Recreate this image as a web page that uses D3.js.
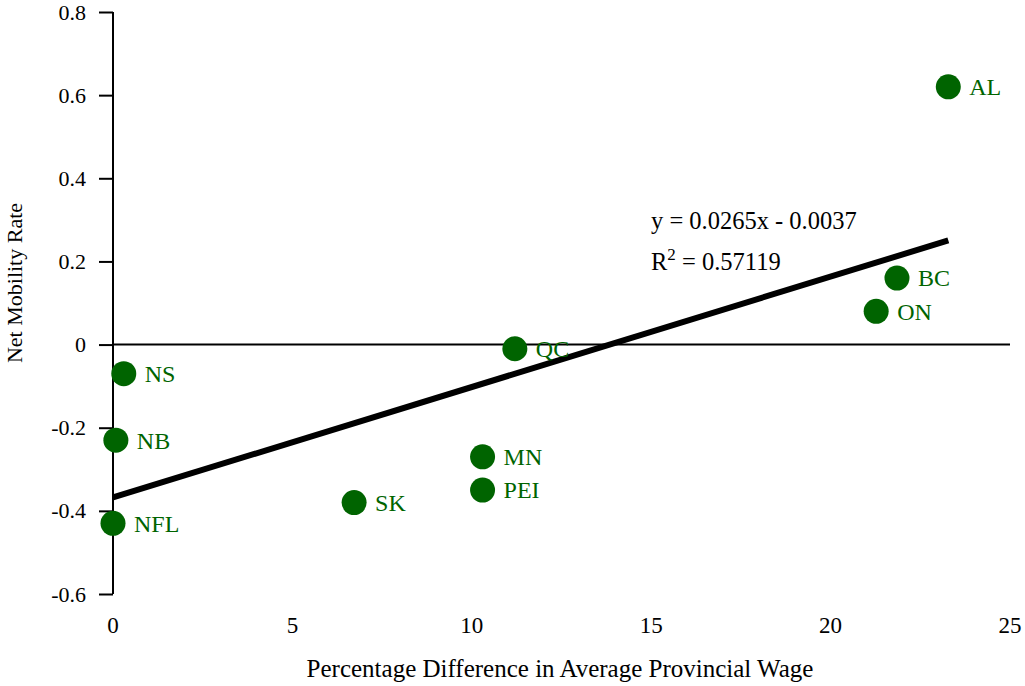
<!DOCTYPE html>
<html>
<head>
<meta charset="utf-8">
<script src="https://cdn.jsdelivr.net/npm/d3@7"></script>
<style>
  body { margin: 0; background: #fff; }
  svg { display: block; font-family: "Liberation Serif", "Times New Roman", serif; }
</style>
</head>
<body>
<svg id="chart" width="1025" height="686"></svg>
<script>
// provinces, wage difference (%) and net mobility rate
const provinces = ["AL", "BC", "ON", "QC", "NS", "NB", "NFL", "SK", "MN", "PEI"];
const wageDiff = [23.28, 21.85, 21.27, 11.2, 0.3, 0.08, 0.0, 6.72, 10.3, 10.3];
const mobility = [0.62, 0.16, 0.08, -0.01, -0.07, -0.23, -0.43, -0.38, -0.27, -0.35];
const xTicks = [0, 5, 10, 15, 20, 25];
const yTicks = [-0.6, -0.4, -0.2, 0, 0.2, 0.4, 0.6, 0.8];
const trendLabel = "y = 0.0265x - 0.0037";
const r2Label = "0.57119";

const width = 1025, height = 686;
const svg = d3.select("#chart");

const x = d3.scaleLinear().domain([0, 25]).range([113, 1010]);
const y = d3.scaleLinear().domain([-0.6, 0.8]).range([594, 12]);

const data = provinces.map((p, i) => ({ name: p, x: wageDiff[i], y: mobility[i] }));

// least squares fit, drawn across the data range
const mx = d3.mean(data, d => d.x), my = d3.mean(data, d => d.y);
const slope = d3.sum(data, d => (d.x - mx) * (d.y - my)) / d3.sum(data, d => (d.x - mx) ** 2);
const intercept = my - slope * mx;
const [x0, x1] = d3.extent(data, d => d.x);

// y axis with outward ticks
const yAxis = svg.append("g")
    .attr("transform", `translate(${x(0)},0)`)
    .call(d3.axisLeft(y).tickValues(yTicks).tickSize(14).tickPadding(13)
        .tickFormat(d => d === 0 ? "0" : d3.format(".1f")(d).replace("\u2212", "-")));
yAxis.select(".domain").attr("stroke", "#000").attr("stroke-width", 2).attr("d", `M0,${y(0.8)}V${y(-0.6)}`);
yAxis.selectAll(".tick line").attr("stroke", "#000").attr("stroke-width", 2);
yAxis.selectAll(".tick text").attr("fill", "#000").attr("font-size", 22)
    .attr("font-family", "'Liberation Serif', serif");

// horizontal zero line
svg.append("line")
    .attr("x1", x(0)).attr("x2", x(25))
    .attr("y1", y(0)).attr("y2", y(0))
    .attr("stroke", "#000").attr("stroke-width", 2);

// x tick labels below the plot
svg.append("g")
    .selectAll("text")
    .data(xTicks)
    .join("text")
    .attr("x", d => x(d))
    .attr("y", 633)
    .attr("text-anchor", "middle")
    .attr("font-size", 23)
    .text(d => d);

// trend line
svg.append("line")
    .attr("x1", x(x0)).attr("y1", y(slope * x0 + intercept))
    .attr("x2", x(x1)).attr("y2", y(slope * x1 + intercept))
    .attr("stroke", "#000").attr("stroke-width", 6);

// points and labels
const pts = svg.append("g").selectAll("g").data(data).join("g")
    .attr("transform", d => `translate(${x(d.x)},${y(d.y)})`);
pts.append("circle").attr("r", 12.5).attr("fill", "#006400");
pts.append("text")
    .attr("x", 21).attr("dy", "0.35em")
    .attr("font-size", 24).attr("fill", "#006400")
    .text(d => d.name);

// equation labels
svg.append("text").attr("x", 651).attr("y", 229).attr("font-size", 24.5).text(trendLabel);
const r2 = svg.append("text").attr("x", 651).attr("y", 270).attr("font-size", 24.5);
r2.append("tspan").text("R");
r2.append("tspan").attr("dy", -10).attr("font-size", 17).text("2");
r2.append("tspan").attr("dy", 10).text(" = " + r2Label);

// axis titles
svg.append("text")
    .attr("x", 560).attr("y", 677)
    .attr("text-anchor", "middle").attr("font-size", 25)
    .text("Percentage Difference in Average Provincial Wage");
svg.append("text")
    .attr("transform", "translate(22,283) rotate(-90)")
    .attr("text-anchor", "middle").attr("font-size", 22)
    .text("Net Mobility Rate");
</script>
</body>
</html>
